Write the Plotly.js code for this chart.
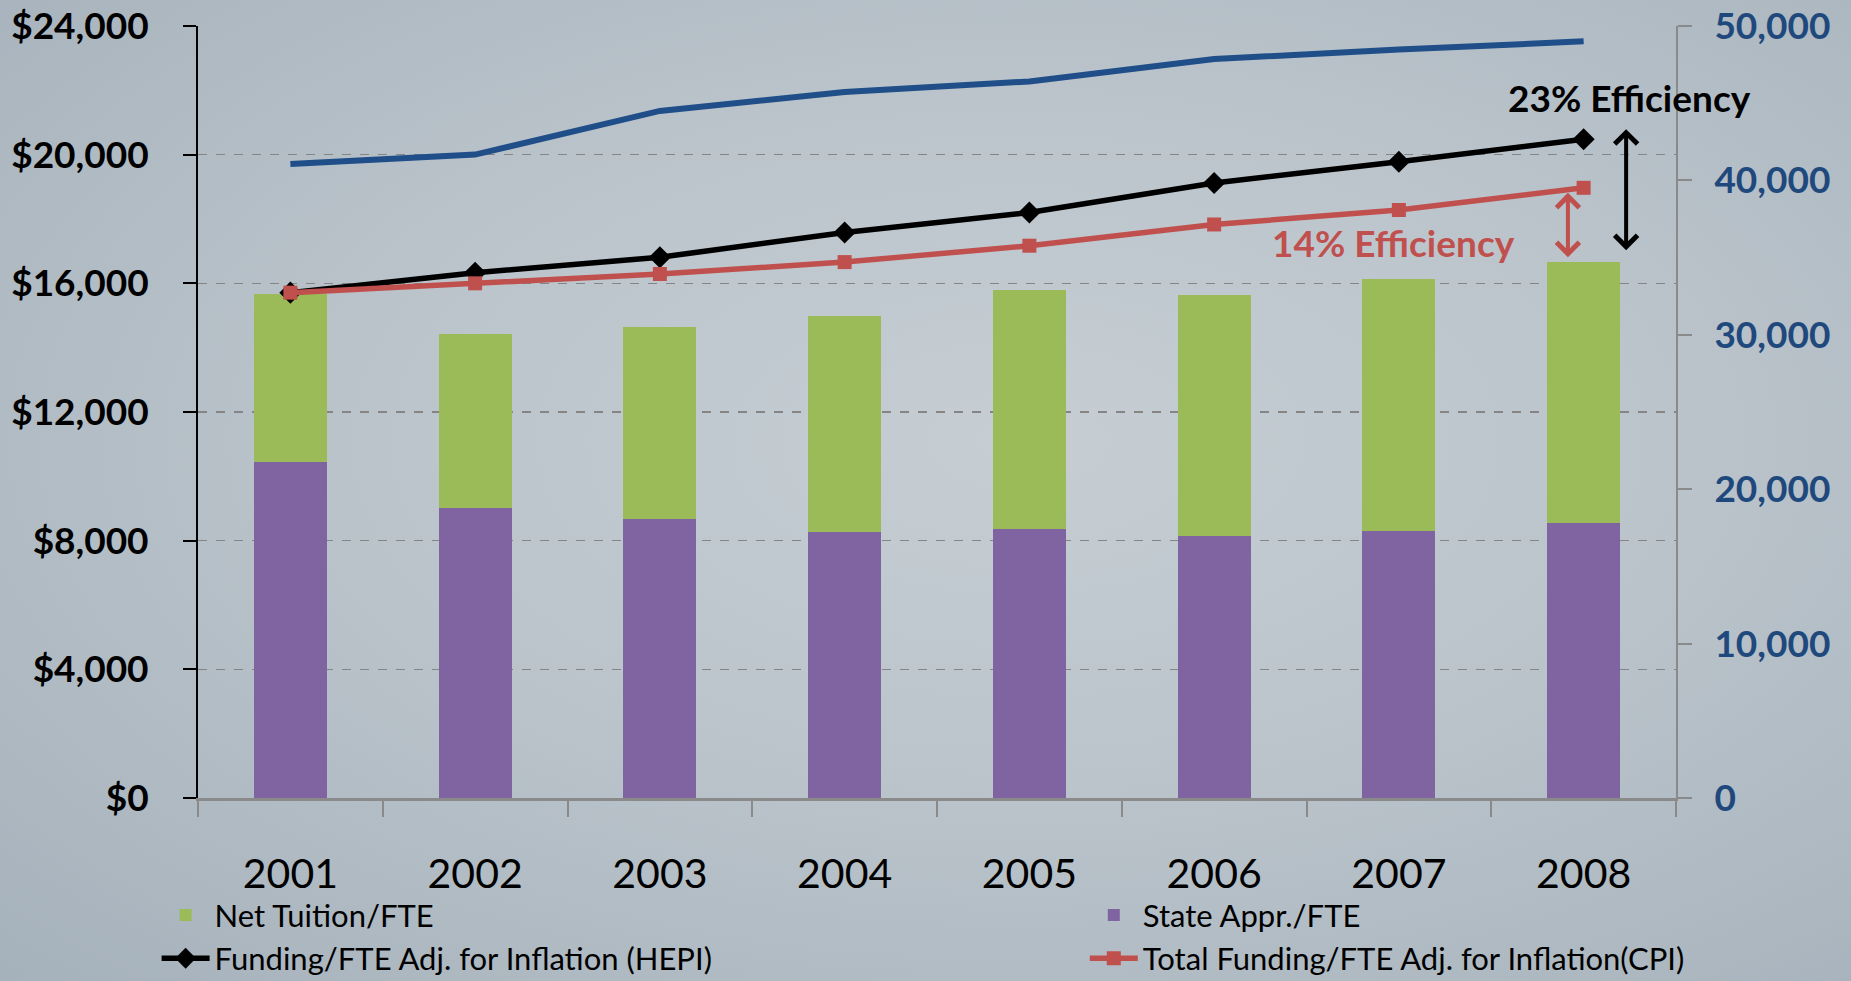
<!DOCTYPE html>
<html>
<head>
<meta charset="utf-8">
<script src="https://cdn.plot.ly/plotly-3.0.1.min.js"></script>
<style>
html,body{margin:0;padding:0;width:1851px;height:981px;overflow:hidden;}
body{background:radial-gradient(ellipse at 55% 45%, #c6ced4 0%, #bbc4cb 45%, #a5b1bb 100%);}
#chart{width:1851px;height:981px;}
</style>
</head>
<body>
<div id="chart"></div>
<script>
const years = ['2001','2002','2003','2004','2005','2006','2007','2008'];
const stateAppr = [10450, 9030, 8660, 8260, 8370, 8150, 8290, 8550];
const netTuition = [5210, 5390, 5980, 6710, 7410, 7480, 7860, 8110];
const hepi = [15710, 16330, 16810, 17580, 18200, 19120, 19780, 20480];
const cpi = [15710, 16000, 16290, 16660, 17170, 17830, 18280, 18970];
const enrollment = [41060, 41670, 44500, 45720, 46410, 47860, 48470, 49010];
const leftTicks = [0, 4000, 8000, 12000, 16000, 20000, 24000];
const leftTickLabels = ['$0', '$4,000', '$8,000', '$12,000', '$16,000', '$20,000', '$24,000'];
const rightTicks = [0, 10000, 20000, 30000, 40000, 50000];
const rightTickLabels = ['0', '10,000', '20,000', '30,000', '40,000', '50,000'];

const green = '#9BBB59', purple = '#8064A2', red = '#C0504D', blue = '#1F4E89';
const fontFam = 'Lato, "Open Sans", sans-serif';

const traces = [
  {type:'bar', name:'State Appr./FTE', x:years, y:stateAppr, marker:{color:purple}, legend:'legend2', legendrank:2},
  {type:'bar', name:'Net Tuition/FTE', x:years, y:netTuition, marker:{color:green}, legend:'legend', legendrank:1},
  {type:'scatter', mode:'lines', name:'Enrollment', x:years, y:enrollment, yaxis:'y2', line:{color:blue, width:6}, showlegend:false},
  {type:'scatter', mode:'lines+markers', name:'Funding/FTE Adj. for Inflation (HEPI)', x:years, y:hepi,
   line:{color:'#000000', width:5.5}, marker:{symbol:'diamond', size:17, color:'#000000'}, legend:'legend', legendrank:3},
  {type:'scatter', mode:'lines+markers', name:'Total Funding/FTE Adj. for Inflation(CPI)', x:years, y:cpi,
   line:{color:red, width:5.5}, marker:{symbol:'square', size:14, color:red}, legend:'legend2', legendrank:4}
];

const layout = {
  width:1851, height:981,
  paper_bgcolor:'rgba(0,0,0,0)', plot_bgcolor:'rgba(0,0,0,0)',
  margin:{l:198, r:175, t:26, b:183, autoexpand:false},
  barmode:'stack', bargap:0.605,
  font:{family:fontFam, color:'#000'},
  xaxis:{type:'category', range:[-0.5,7.5], showline:true, linecolor:'#8a8a8a', linewidth:3,
    ticks:'outside', tickson:'boundaries', ticklen:16, tickcolor:'#8a8a8a', tickwidth:2,
    tickfont:{family:fontFam, size:41, color:'#000'}, ticklabelstandoff:38, showgrid:false},
  yaxis:{range:[0,24000], tickmode:'array', tickvals:leftTicks, ticktext:leftTickLabels,
    showline:true, linecolor:'#000', linewidth:2, ticks:'outside', ticklen:13, tickcolor:'#000', tickwidth:2,
    showgrid:true, gridcolor:'#858585', griddash:'dash', gridwidth:1.5, zeroline:false,
    tickfont:{family:fontFam, size:37, color:'#000', weight:'bold'}, ticklabelstandoff:27},
  yaxis2:{overlaying:'y', side:'right', range:[0,50000], tickmode:'array', tickvals:rightTicks, ticktext:rightTickLabels,
    showline:true, linecolor:'#8a8a8a', linewidth:2, ticks:'outside', ticklen:14, tickcolor:'#8a8a8a', tickwidth:2,
    showgrid:false, zeroline:false,
    tickfont:{family:fontFam, size:37, color:'#1F497D', weight:'bold'}, ticklabelstandoff:15},
  legend:{orientation:'v', x:-0.028, xanchor:'left', y:-0.117, yanchor:'top', traceorder:'normal',
    bgcolor:'rgba(0,0,0,0)', font:{family:fontFam, size:31, color:'#000'}, itemwidth:48, tracegroupgap:0},
  legend2:{orientation:'v', x:0.6, xanchor:'left', y:-0.117, yanchor:'top', traceorder:'normal',
    bgcolor:'rgba(0,0,0,0)', font:{family:fontFam, size:31, color:'#000'}, itemwidth:48, tracegroupgap:0},
  annotations:[
    {x:7.25, y:21790, xref:'x', yref:'y', text:'23% Efficiency', showarrow:false,
     font:{family:fontFam, size:37, color:'#000', weight:'bold'}},
    {x:5.97, y:17280, xref:'x', yref:'y', text:'14% Efficiency', showarrow:false,
     font:{family:fontFam, size:37, color:red, weight:'bold'}},
    {x:7.23, y:17030, ax:7.23, ay:20840, xref:'x', yref:'y', axref:'x', ayref:'y', text:'',
     showarrow:true, arrowside:'end+start', arrowhead:4, arrowsize:1.1, arrowwidth:4, arrowcolor:'#000'},
    {x:6.915, y:16810, ax:6.915, ay:18860, xref:'x', yref:'y', axref:'x', ayref:'y', text:'',
     showarrow:true, arrowside:'end+start', arrowhead:4, arrowsize:1.1, arrowwidth:4, arrowcolor:red}
  ],
  showlegend:true
};

Plotly.newPlot('chart', traces, layout, {displayModeBar:false, staticPlot:true});
</script>
</body>
</html>
